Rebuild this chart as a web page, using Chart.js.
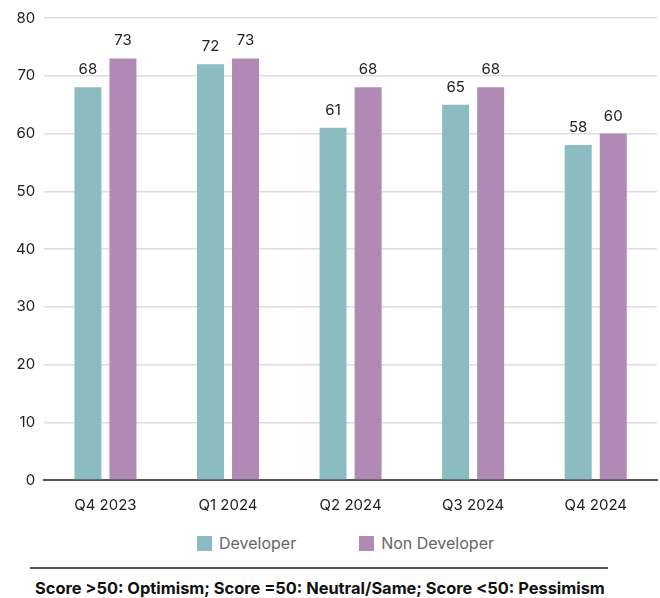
<!DOCTYPE html>
<html>
<head>
<meta charset="utf-8">
<script src="https://cdn.jsdelivr.net/npm/chart.js@4"></script>
<style>
    body { margin: 0; background: #fff; font-family: Inter, "Liberation Sans", sans-serif; }
    #wrap { position: relative; width: 660px; height: 598px; }
    #box { position: absolute; left: 0; top: 0; width: 660px; height: 522px; }
    #legend { position: absolute; left: 197px; top: 533px; display: flex; font-size: 16px; color: #666; }
    #legend .item { display: flex; align-items: center; margin-right: 63px; }
    #legend .swatch { width: 15px; height: 15px; margin-right: 7px; }
    #rule { position: absolute; left: 30px; top: 567px; width: 578px; height: 2px; background: #555; }
    #note { position: absolute; left: 35px; top: 578px; font-size: 16.4px; font-weight: 700; color: #111; white-space: nowrap; }
</style>
</head>
<body>
<div id="wrap">
    <div id="box"><canvas id="myBarChart"></canvas></div>
    <div id="legend"></div>
    <div id="rule"></div>
    <div id="note">Score &gt;50: Optimism; Score =50: Neutral/Same; Score &lt;50: Pessimism</div>
</div>
<script>
var quarters = ["Q4 2023", "Q1 2024", "Q2 2024", "Q3 2024", "Q4 2024"];
var developer = [68, 72, 61, 65, 58];
var nonDeveloper = [73, 73, 68, 68, 60];
var yTicks = [0, 10, 20, 30, 40, 50, 60, 70, 80];

var tealColor = "#8bbcc1";
var purpleColor = "#b08ab4";

// numbers above each bar
var valueLabels = {
    id: "valueLabels",
    afterDatasetsDraw: function (chart) {
        var ctx = chart.ctx;
        ctx.save();
        ctx.font = "15px Inter, 'Liberation Sans', sans-serif";
        ctx.fillStyle = "#222";
        ctx.textAlign = "center";
        ctx.textBaseline = "alphabetic";
        chart.data.datasets.forEach(function (ds, i) {
            chart.getDatasetMeta(i).data.forEach(function (bar, j) {
                ctx.fillText(String(ds.data[j]), bar.x, bar.y - 13);
            });
        });
        ctx.restore();
    }
};

var ctx_bar = document.getElementById("myBarChart");

var MyBarChart = new Chart(ctx_bar, {
    type: "bar",
    data: {
        labels: quarters,
        datasets: [{
            label: "Developer",
            backgroundColor: tealColor,
            data: developer
        }, {
            label: "Non Developer",
            backgroundColor: purpleColor,
            data: nonDeveloper
        }]
    },
    options: {
        responsive: true,
        maintainAspectRatio: false,
        animation: false,
        categoryPercentage: 0.572,
        barPercentage: 0.77,
        layout: { padding: { top: 12, right: 3, left: 7, bottom: 0 } },
        plugins: {
            legend: { display: false },
            tooltip: { enabled: false }
        },
        scales: {
            x: {
                grid: { display: false },
                border: { display: true, color: "#555", width: 2 },
                ticks: {
                    color: "#222",
                    padding: 8,
                    font: { family: "Inter, 'Liberation Sans', sans-serif", size: 15 }
                }
            },
            y: {
                min: 0,
                max: 80,
                afterBuildTicks: function (axis) {
                    axis.ticks = yTicks.map(function (v) { return { value: v }; });
                },
                border: { display: false },
                grid: {
                    drawTicks: false,
                    color: function (c) { return c.tick && c.tick.value === 0 ? "rgba(0,0,0,0)" : "#dcdcdc"; },
                    lineWidth: 1.5
                },
                ticks: {
                    color: "#222",
                    padding: 9,
                    font: { family: "Inter, 'Liberation Sans', sans-serif", size: 15 }
                }
            }
        }
    },
    plugins: [valueLabels]
});

// legend built from the datasets
var legend = document.getElementById("legend");
MyBarChart.data.datasets.forEach(function (ds) {
    var item = document.createElement("div");
    item.className = "item";
    var sw = document.createElement("span");
    sw.className = "swatch";
    sw.style.background = ds.backgroundColor;
    var txt = document.createElement("span");
    txt.textContent = ds.label;
    item.appendChild(sw);
    item.appendChild(txt);
    legend.appendChild(item);
});
</script>
</body>
</html>
